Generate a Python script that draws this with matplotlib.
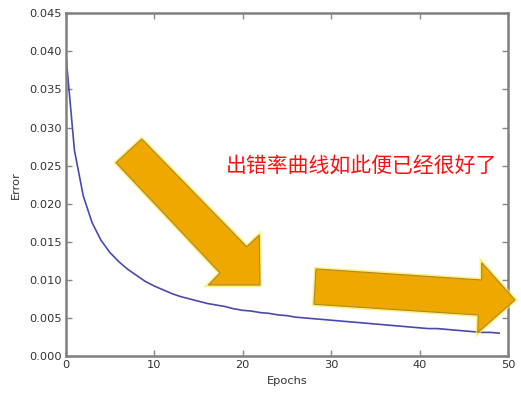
import numpy as np
import matplotlib
matplotlib.use('Agg')
import matplotlib.pyplot as plt
from matplotlib.patches import Polygon

plt.rcParams['font.family'] = ['DejaVu Sans', 'Noto Sans CJK SC']

# training error per epoch
epochs = list(range(50))
error = [0.0400, 0.0270, 0.0210, 0.0175, 0.0152, 0.0136, 0.0124, 0.0114, 0.0106, 0.0098,
         0.0092, 0.0087, 0.0082, 0.0078, 0.0075, 0.0072, 0.0069, 0.0067, 0.0065, 0.0062,
         0.0060, 0.0059, 0.0057, 0.0056, 0.0054, 0.0053, 0.0051, 0.0050, 0.0049, 0.0048,
         0.0047, 0.0046, 0.0045, 0.0044, 0.0043, 0.0042, 0.0041, 0.0040, 0.0039, 0.0038,
         0.0037, 0.0036, 0.0036, 0.0035, 0.0034, 0.0033, 0.0032, 0.0031, 0.0031, 0.0030]
xticks = [0, 10, 20, 30, 40, 50]
yticks = [0.000, 0.005, 0.010, 0.015, 0.020, 0.025, 0.030, 0.035, 0.040, 0.045]
note = '出错率曲线如此便已经很好了'

W, H = 521, 396
fig = plt.figure(figsize=(W / 100, H / 100), dpi=100)
ax = fig.add_axes([65.6 / W, 1 - 356 / H, (508 - 65.6) / W, (356 - 13.3) / H])

ax.plot(epochs, error, color='#4a4aae', lw=1.2)
ax.set_xlim(0, 50)
ax.set_ylim(0, 0.045)
ax.set_xticks(xticks)
ax.set_yticks(yticks)
ax.set_yticklabels([f'{v:.3f}' for v in yticks])
ax.tick_params(direction='in', top=True, right=True, length=4, width=1,
               color='#888888', labelsize=8.2, labelcolor='#333333', pad=3)
for s in ax.spines.values():
    s.set_color('#808080')
    s.set_linewidth(1.8)
ax.set_xlabel('Epochs', fontsize=8.2, color='#333333', labelpad=4)
ax.set_ylabel('Error', fontsize=8.2, color='#333333', labelpad=6)

# overlay arrows, in picture pixel coordinates (y from top)
arrow1 = [(116, 162.7), (141.7, 139), (246.7, 246.7), (259.3, 235),
          (260, 285), (208.3, 285), (220, 273)]
arrow2 = [(316, 269), (481.7, 280), (481.7, 262.7), (515, 300),
          (477.7, 332.7), (478.3, 315), (314, 304.3)]
for pts in (arrow1, arrow2):
    xy = [(x / W, 1 - y / H) for x, y in pts]
    fig.patches.append(Polygon(xy, closed=True, transform=fig.transFigure,
                               facecolor='none', edgecolor='#ffe84a', lw=3.0,
                               alpha=0.7, zorder=9))
    fig.patches.append(Polygon(xy, closed=True, transform=fig.transFigure,
                               facecolor='#eea800', edgecolor='#a88a2a', lw=0.8,
                               zorder=10))

fig.text(361.7 / W, 1 - 166.7 / H, note, color='#ff1010', fontsize=15,
         family=['Noto Sans CJK SC', 'DejaVu Sans'], ha='center', va='center',
         zorder=11)

fig.savefig('out.png', dpi=100)
